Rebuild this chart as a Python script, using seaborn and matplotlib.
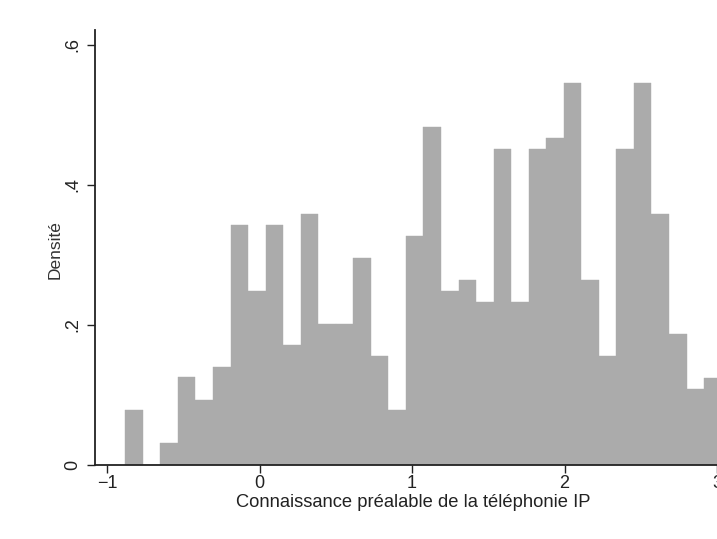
import numpy as np
import pandas as pd
import matplotlib
matplotlib.use("Agg")
import matplotlib.pyplot as plt
import seaborn as sns

# Histogram
bin_start = -0.880
bin_width = 0.115
densities = [0.078, 0.0, 0.031, 0.125, 0.093, 0.140, 0.342, 0.249, 0.342, 0.171,
             0.358, 0.202, 0.202, 0.296, 0.156, 0.078, 0.327, 0.482, 0.249, 0.264,
             0.233, 0.451, 0.233, 0.451, 0.467, 0.545, 0.264, 0.156, 0.451, 0.545,
             0.358, 0.187, 0.109, 0.124]
x_ticks = [-1, 0, 1, 2, 3]
x_tick_labels = ["\u22121", "0", "1", "2", "3"]
y_ticks = [0, 0.2, 0.4, 0.6]
y_tick_labels = ["0", ".2", ".4", ".6"]
x_title = "Connaissance préalable de la téléphonie IP"
y_title = "Densité"

n = len(densities)
edges = [float(bin_start + bin_width * i) for i in range(n + 1)]
centers = [(edges[i] + edges[i + 1]) / 2 for i in range(n)]
df = pd.DataFrame({"x": centers, "w": densities})

sns.set_style("ticks")
plt.rcParams["font.family"] = ["Liberation Sans", "DejaVu Sans"]

fig = plt.figure(figsize=(7.17, 5.39), dpi=100)
ax = fig.add_axes([95 / 717, 1 - 465 / 539, 1 - 95 / 717, (465 - 30) / 539])

sns.histplot(data=df, x="x", weights="w", bins=edges, stat="count",
             color="#ababab", alpha=1, edgecolor="#ababab", linewidth=0.3, ax=ax)

ax.set_xlim(-1.079, 3.0)
ax.set_ylim(0, 0.621)
ax.set_xticks(x_ticks)
ax.set_xticklabels(x_tick_labels)
ax.set_yticks(y_ticks)
ax.set_yticklabels(y_tick_labels, rotation=90, va="center")
ax.set_xlabel(x_title, fontsize=13.2)
ax.set_ylabel(y_title, fontsize=12.5)
ax.xaxis.set_label_coords(0.512, -0.066)
ax.yaxis.set_label_coords(-0.052, 0.495)
ax.tick_params(axis="both", labelsize=13, length=6, width=1.0, color="#222222",
               labelcolor="#222222")
ax.tick_params(axis="x", pad=1)
ax.tick_params(axis="y", pad=4)
for s in ["top", "right"]:
    ax.spines[s].set_visible(False)
for s in ["left", "bottom"]:
    ax.spines[s].set_linewidth(1.3)
    ax.spines[s].set_color("#222222")
    ax.spines[s].set_clip_on(False)
ax.xaxis.label.set_color("#222222")
ax.yaxis.label.set_color("#333333")

fig.savefig("out.png", dpi=100)
